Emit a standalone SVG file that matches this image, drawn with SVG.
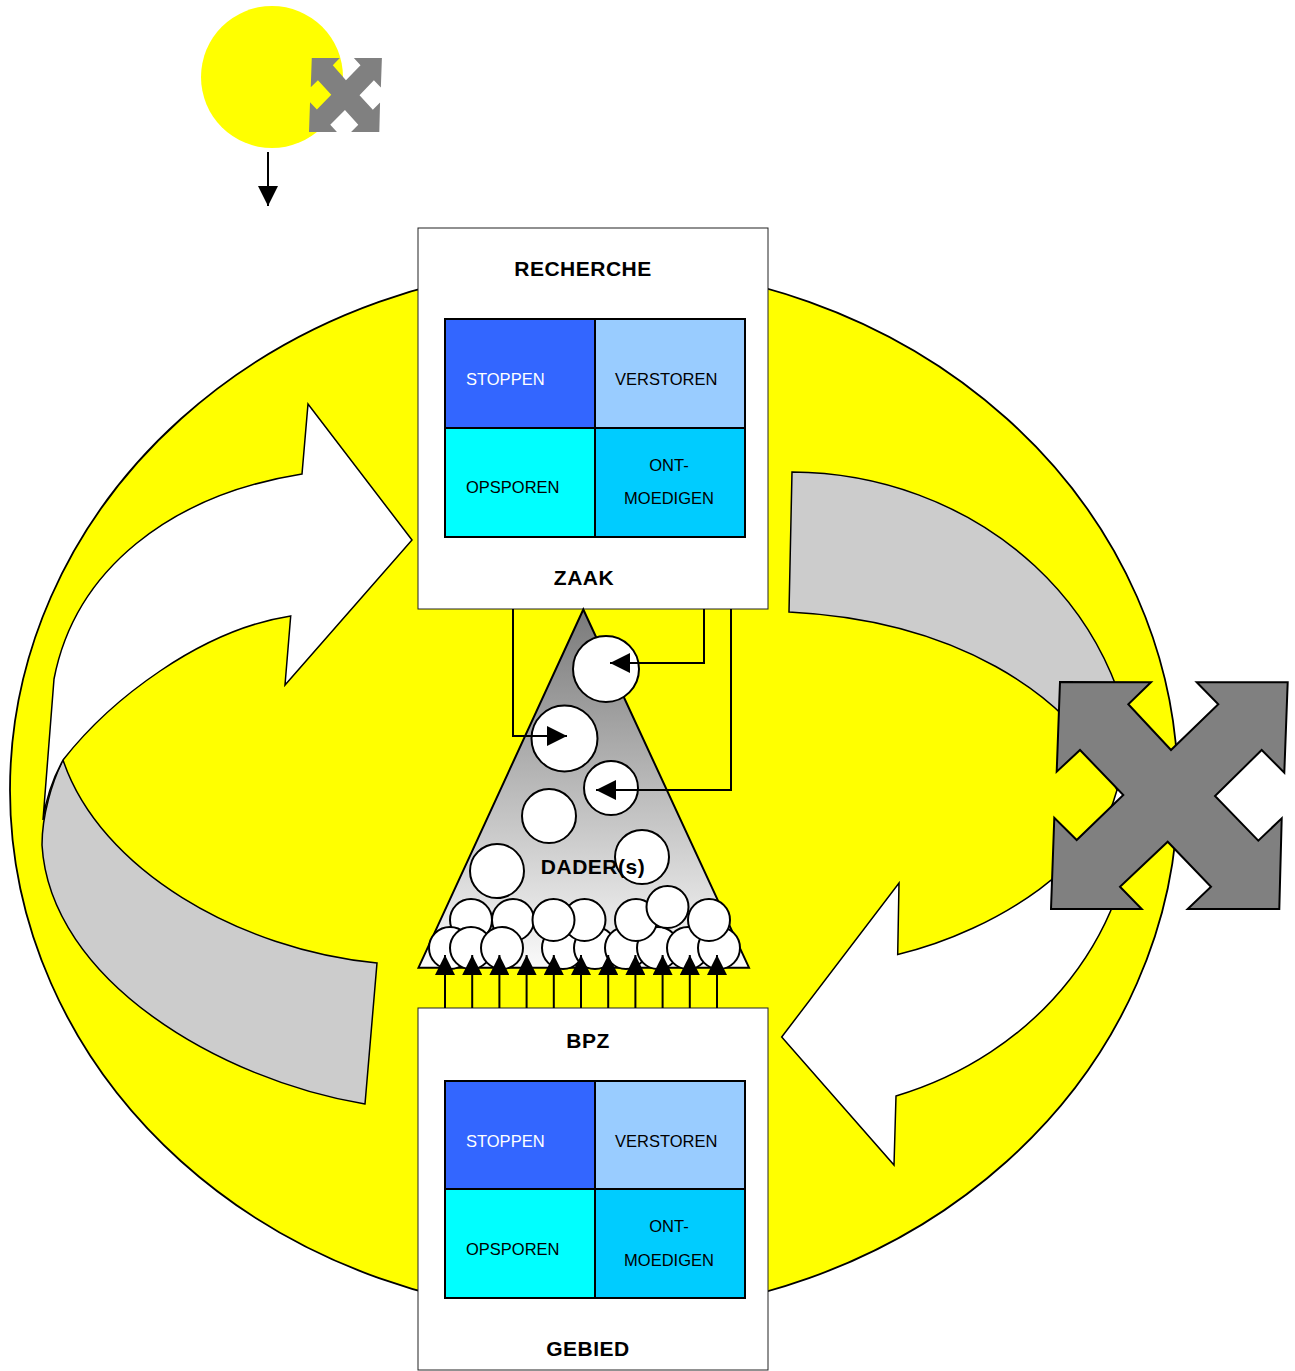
<svg xmlns="http://www.w3.org/2000/svg" width="1295" height="1371" viewBox="0 0 1295 1371">
<style>
.title{font-family:"Liberation Sans",Arial,sans-serif;font-weight:bold;font-size:21px;letter-spacing:0.5px;fill:#000;text-anchor:middle}
.cell{font-family:"Liberation Sans",Arial,sans-serif;font-size:16.5px;fill:#000}
.mid{text-anchor:middle}
.box{fill:#fff;stroke:#222;stroke-width:1}
.grid{stroke:#000;stroke-width:2}
.ball{fill:#fff;stroke:#000;stroke-width:2}
.band{stroke:#000;stroke-width:1.5;stroke-linejoin:miter}
.conn{fill:none;stroke:#000;stroke-width:2;marker-end:url(#ah)}
</style>
<defs>
<marker id="ah" markerUnits="userSpaceOnUse" markerWidth="20" markerHeight="20" viewBox="0 0 20 20" refX="20" refY="10" orient="auto">
<path d="M0,0 L20,10 L0,20 Z" fill="#000"/>
</marker>
<linearGradient id="tri" x1="0" y1="0" x2="0" y2="1">
<stop offset="0" stop-color="#7a7a7a"/>
<stop offset="1" stop-color="#fafafa"/>
</linearGradient>
<path id="xshape" d="M9,0 L100,0.3 L77.3,22.3 L120,68 L167.3,22.3 L145.7,0.3 L236.7,0.3 L233.3,90.7 L210.7,68 L164,114 L207.3,158.7 L230.7,136.3 L228.3,227 L136.7,227 L160,204.7 L116.7,159.7 L69,204.7 L90.7,227 L0,227 L3.3,135.7 L25.7,158 L72.3,113 L29,68 L5.7,89.7 Z"/>
</defs>

<g id="background">
<ellipse cx="594" cy="790" rx="584" ry="525" fill="#ffff00" stroke="#000" stroke-width="1.8"/>
</g>

<g id="small-sun">
<circle cx="272" cy="77" r="71" fill="#ffff00"/>
<use href="#xshape" transform="translate(309,58) scale(0.308,0.326)" fill="#808080"/>
</g>

<g id="left-cycle-arrow">
<path class="band" fill="#cccccc" d="M63,760 C52,782 42,815 42,845 C50,980 220,1080 365,1104 L377,963 C240,950 100,870 63,760 Z"/>
<path class="band" fill="#ffffff" d="M302,474 C170,495 75,570 54,679 L43,820 C46,798 52,780 63,760 C110,700 200,630 290.7,616 L285,685 L412,540 L308,404 Z"/>
</g>

<g id="right-cycle-arrow">
<path class="band" fill="#cccccc" d="M792,472 A345,318 0 0 1 1135,790 L1117,790 C1070,690 950,620 789,612 Z"/>
<path class="band" fill="#ffffff" d="M1117,790 C1100,860 1000,930 897.7,954.5 L899,883 L781.7,1037 L894,1165 L896,1096 A345,318 0 0 0 1135,790 Z"/>
</g>

<g id="recherche">
<rect class="box" x="418" y="228" width="350" height="381"/>
<text class="title" x="583" y="276">RECHERCHE</text>
<rect x="445" y="319" width="150" height="109" fill="#3366ff"/>
<rect x="595" y="319" width="150" height="109" fill="#99ccff"/>
<rect x="445" y="428" width="150" height="109" fill="#00ffff"/>
<rect x="595" y="428" width="150" height="109" fill="#00ccff"/>
<rect x="445" y="319" width="300" height="218" fill="none" class="grid"/>
<line class="grid" x1="595" y1="319" x2="595" y2="537"/>
<line class="grid" x1="445" y1="428" x2="745" y2="428"/>
<text class="cell" x="466" y="385" style="fill:#fff">STOPPEN</text>
<text class="cell" x="615" y="385">VERSTOREN</text>
<text class="cell" x="466" y="493">OPSPOREN</text>
<text class="cell mid" x="669" y="470.5">ONT-</text>
<text class="cell mid" x="669" y="504">MOEDIGEN</text>
<text class="title" x="584" y="585">ZAAK</text>
</g>

<g id="bpz">
<rect class="box" x="418" y="1008" width="350" height="362"/>
<text class="title" x="588" y="1048">BPZ</text>
<rect x="445" y="1081" width="150" height="108" fill="#3366ff"/>
<rect x="595" y="1081" width="150" height="108" fill="#99ccff"/>
<rect x="445" y="1189" width="150" height="109" fill="#00ffff"/>
<rect x="595" y="1189" width="150" height="109" fill="#00ccff"/>
<rect x="445" y="1081" width="300" height="217" fill="none" class="grid"/>
<line class="grid" x1="595" y1="1081" x2="595" y2="1298"/>
<line class="grid" x1="445" y1="1189" x2="745" y2="1189"/>
<text class="cell" x="466" y="1147" style="fill:#fff">STOPPEN</text>
<text class="cell" x="615" y="1147">VERSTOREN</text>
<text class="cell" x="466" y="1255">OPSPOREN</text>
<text class="cell mid" x="669" y="1231.5">ONT-</text>
<text class="cell mid" x="669" y="1266">MOEDIGEN</text>
<text class="title" x="588" y="1356">GEBIED</text>
</g>

<g id="daders">
<polygon points="583.3,609.5 418.5,967.7 749,967.7" fill="url(#tri)" stroke="#000" stroke-width="2" stroke-linejoin="miter"/>
<circle class="ball" cx="606" cy="669" r="33"/>
<circle class="ball" cx="564.5" cy="738.5" r="33"/>
<circle class="ball" cx="611" cy="788" r="27"/>
<circle class="ball" cx="549" cy="816" r="27"/>
<circle class="ball" cx="497" cy="871" r="27"/>
<circle class="ball" cx="642" cy="857" r="27"/>
<text class="title" x="593" y="874">DADER(s)</text>
<circle class="ball" cx="563" cy="948" r="21"/>
<circle class="ball" cx="595" cy="948" r="21"/>
<circle class="ball" cx="626" cy="948" r="21"/>
<circle class="ball" cx="658" cy="948" r="21"/>
<circle class="ball" cx="688" cy="948" r="21"/>
<circle class="ball" cx="719" cy="948" r="21"/>
<circle class="ball" cx="471" cy="920" r="21"/>
<circle class="ball" cx="513" cy="920" r="21"/>
<circle class="ball" cx="584.5" cy="920" r="21"/>
<circle class="ball" cx="553.5" cy="920" r="21"/>
<circle class="ball" cx="636" cy="920" r="21"/>
<circle class="ball" cx="709" cy="920" r="21"/>
<circle class="ball" cx="667.5" cy="907" r="21"/>
<circle class="ball" cx="450" cy="948" r="21"/>
<circle class="ball" cx="471" cy="948" r="21"/>
<circle class="ball" cx="502" cy="948" r="21"/>
</g>

<g id="connectors">
<path class="conn" d="M513,609 V736 H567"/>
<path class="conn" d="M704,609 V663 H610"/>
<path class="conn" d="M731,609 V790 H596"/>
<path class="conn" d="M445,1008 V955"/>
<path class="conn" d="M472.2,1008 V955"/>
<path class="conn" d="M499.4,1008 V955"/>
<path class="conn" d="M526.6,1008 V955"/>
<path class="conn" d="M553.8,1008 V955"/>
<path class="conn" d="M581,1008 V955"/>
<path class="conn" d="M608.2,1008 V955"/>
<path class="conn" d="M635.4,1008 V955"/>
<path class="conn" d="M662.6,1008 V955"/>
<path class="conn" d="M689.8,1008 V955"/>
<path class="conn" d="M717,1008 V955"/>
<path class="conn" d="M268,152 V206"/>
</g>

<g id="big-cross">
<use href="#xshape" transform="translate(1051,682)" fill="#808080" stroke="#000" stroke-width="2"/>
</g>
</svg>
